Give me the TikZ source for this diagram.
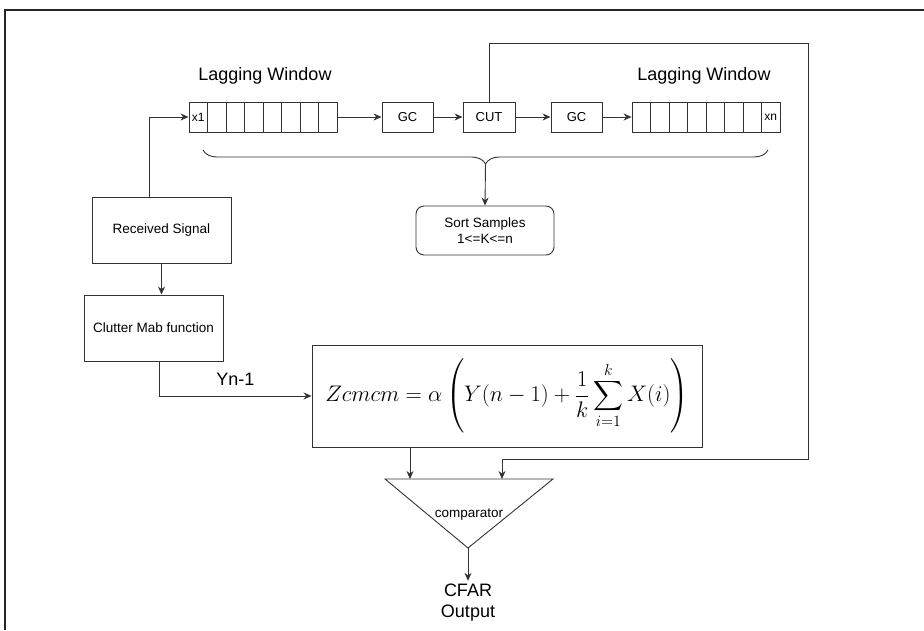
\RequirePackage{fix-cm}
\documentclass[tikz,border=0pt]{standalone}
\usepackage{amsmath}
\usepackage{exscale}
\usepackage[no-math]{fontspec}
\setmainfont{Liberation Sans}
\usetikzlibrary{arrows.meta,decorations.pathreplacing}

\begin{document}
\begin{tikzpicture}[x=1pt, y=-1pt,
		line/.style={draw=black!80, line width=0.9pt},
		arr/.style={line, -{Stealth[length=8pt,width=7pt]}},
		blk/.style={line, minimum height=30pt, inner sep=0pt, font=\fontsize{13}{15}\selectfont},
		cell/.style={line, minimum width=18.5pt, minimum height=30pt, inner sep=0pt, font=\fontsize{12}{14}\selectfont},
		big/.style={font=\fontsize{18}{21}\selectfont},
		small/.style={font=\fontsize{13.5}{16}\selectfont}]
	\useasboundingbox (0,0) rectangle (924,630);
	\draw[black!85, line width=1.5pt] (5,630) -- (5,10) -- (924,10);

	% Lagging windows
	\node[big] (lagL) at (265,76) {Lagging Window};
	\node[big] (lagR) at (704,76) {Lagging Window};
	\foreach \i in {1,...,8}
		\node[cell] (l\i) at ({189+18.5*(\i-0.5)},117) {\ifnum\i=1 x1\fi};
	\foreach \i in {1,...,8}
		\node[cell] (r\i) at ({632+18.5*(\i-0.5)},117) {\ifnum\i=8 xn\fi};

	% Guard cells and CUT
	\node[blk, minimum width=51pt] (gcL) at (407.5,117) {GC};
	\node[blk, minimum width=52pt] (cut) at (489,117) {CUT};
	\node[blk, minimum width=51pt] (gcR) at (576.5,117) {GC};
	\draw[arr] (l8.east) -- (gcL.west);
	\draw[arr] (gcL.east) -- (cut.west);
	\draw[arr] (cut.east) -- (gcR.west);
	\draw[arr] (gcR.east) -- (r1.west);

	% Brace and sorting
	\draw[line, decorate, decoration={brace, mirror, amplitude=14pt}] (203,150) -- (768,150);
	\coordinate (tip) at (485.5,164);
	\node[line, rounded corners=8pt, minimum width=138pt, minimum height=49pt, align=center, small] (sort) at (485,230.5) {Sort Samples\\1<=K<=n};
	\draw[arr] (tip) -- (sort.north);

	% Input side
	\node[line, minimum width=139pt, minimum height=66pt, small] (recv) at (161.5,230) {Received Signal};
	\node[line, minimum width=139pt, minimum height=66pt, small] (clutter) at (153.5,328) {Clutter Mab function};
	\draw[arr] ([xshift=-12.5pt]recv.north) |- (l1.west);
	\draw[arr] (recv.south) -- (recv.south |- clutter.north);

	% Threshold
	\node[line, minimum width=390pt, minimum height=102pt, inner sep=0pt, font=\fontsize{22.5}{27}\selectfont] (zbox) at (507,396)
		{\delimiterfactor=800 $\displaystyle Zcmcm=\alpha\left(Y(n-1)+\frac{1}{k}\sum_{i=1}^{k}X(i)\right)$};
	\draw[arr] ([xshift=5.5pt]clutter.south) |- node[pos=0.75, above=7pt, big] (yn) {Yn-1} (zbox.west);

	% Comparator
	\coordinate (cin1) at (410,479);
	\coordinate (cin2) at (502,479);
	\coordinate (apex) at (468,548);
	\draw[line] (385,479) -- (553,479) -- (apex) -- cycle;
	\node[small] (comp) at (469,515) {comparator};
	\draw[arr] (zbox.south -| cin1) -- (cin1);
	\coordinate (fbR) at (808,43);
	\coordinate (fbD) at (808,459);
	\draw[arr] (cut.north) |- (fbR) -- (fbD) -| (cin2);

	\node[big, align=center] (out) at (468,603) {CFAR\\Output};
	\draw[arr] (apex) -- (out.north);
\end{tikzpicture}
\end{document}
